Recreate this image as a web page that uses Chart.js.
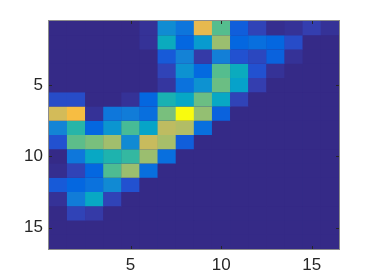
<!DOCTYPE html>
<html>
<head>
<meta charset="utf-8">
<script src="https://cdn.jsdelivr.net/npm/chart.js@4"></script>
<style>
html, body { margin: 0; padding: 0; background: #fff; }
#wrap { width: 374px; height: 280px; }
</style>
</head>
<body>
<div id="wrap"><canvas id="chart" width="374" height="280"></canvas></div>
<script>
const colLabels = ['1','2','3','4','5','6','7','8','9','10','11','12','13','14','15','16'];
const tickValues = [5, 10, 15];

// one list per image row, top to bottom, colour scale 0..1
const row1  = [0,0,0,0,0,.02,.28,.19,.79,.55,.12,.06,.01,.02,.05,.02];
const row2  = [0,0,0,0,0,.02,.41,.14,.33,.65,.14,.17,.14,.08,0,0];
const row3  = [0,0,0,0,0,0,.11,.24,.04,.23,.09,.07,.13,.02,0,0];
const row4  = [0,0,0,0,0,0,.06,.30,.15,.55,.41,.09,.02,0,0,0];
const row5  = [0,0,0,0,0,0,.03,.18,.30,.58,.36,.05,0,0,0,0];
const row6  = [.08,.08,0,0,.02,.14,.45,.38,.58,.39,.06,0,0,0,0,0];
const row7  = [.75,.83,.02,.20,.22,.17,.60,1,.64,.13,0,0,0,0,0,0];
const row8  = [.25,.48,.14,.31,.53,.37,.71,.69,.17,0,0,0,0,0,0,0];
const row9  = [.09,.56,.60,.66,.27,.73,.67,.12,0,0,0,0,0,0,0,0];
const row10 = [0,.20,.39,.46,.50,.65,.17,0,0,0,0,0,0,0,0,0];
const row11 = [.01,.06,.14,.54,.65,.17,0,0,0,0,0,0,0,0,0,0];
const row12 = [.11,.14,.18,.27,.09,0,0,0,0,0,0,0,0,0,0,0];
const row13 = [.02,.22,.39,.06,0,0,0,0,0,0,0,0,0,0,0,0];
const row14 = [0,.06,.04,0,0,0,0,0,0,0,0,0,0,0,0,0];
const row15 = [0,0,0,0,0,0,0,0,0,0,0,0,0,0,0,0];
const row16 = [0,0,0,0,0,0,0,0,0,0,0,0,0,0,0,0];
const rows = [row1,row2,row3,row4,row5,row6,row7,row8,row9,row10,row11,row12,row13,row14,row15,row16];

// parula, every third entry of the 64 step map
const stops = [[53,42,135],[53,61,173],[32,83,212],[2,104,225],[13,117,220],[20,129,214],[16,142,210],[7,156,207],
    [6,167,198],[15,174,185],[37,181,169],[66,187,152],[101,190,134],[135,191,119],[165,190,107],[192,188,96],
    [217,186,86],[241,185,74],[255,195,55],[250,211,42],[245,228,29],[249,251,14]];
function parula(v) {
    const p = v * (stops.length - 1);
    const i = Math.min(Math.floor(p), stops.length - 2);
    const t = p - i;
    const c = [0,1,2].map(k => Math.round(stops[i][k] + (stops[i+1][k] - stops[i][k]) * t));
    return `rgb(${c[0]},${c[1]},${c[2]})`;
}

// bars overlap a little so no seams show between cells
const datasets = rows.map((vals, r) => ({
    data: vals.map(() => [r + 0.5, r + 1.5]),
    backgroundColor: vals.map(parula),
    borderWidth: 0,
    borderSkipped: false,
    barPercentage: 1.02,
    categoryPercentage: 1,
    grouped: false
}));

// matlab style box and inward ticks
const boxPlugin = {
    id: 'box',
    beforeDatasetsDraw(chart) {
        const { ctx, chartArea: a } = chart;
        ctx.save();
        ctx.fillStyle = parula(0);
        ctx.fillRect(a.left, a.top, a.right - a.left, a.bottom - a.top);
        ctx.restore();
    },
    afterDatasetsDraw(chart) {
        const { ctx, chartArea: a, scales } = chart;
        ctx.save();
        ctx.strokeStyle = '#8c8c8c';
        ctx.lineWidth = 1;
        ctx.strokeRect(a.left - 0.5, a.top - 0.5, a.right - a.left + 1, a.bottom - a.top + 1);
        ctx.strokeStyle = '#262626';
        ctx.beginPath();
        tickValues.forEach(v => {
            const x = Math.round(scales.x.getPixelForValue(v - 1)) + 0.5;
            const y = Math.round(scales.y.getPixelForValue(v)) + 0.5;
            ctx.moveTo(x, a.top); ctx.lineTo(x, a.top + 3);
            ctx.moveTo(x, a.bottom); ctx.lineTo(x, a.bottom - 3);
            ctx.moveTo(a.left, y); ctx.lineTo(a.left + 3, y);
            ctx.moveTo(a.right, y); ctx.lineTo(a.right - 3, y);
        });
        ctx.stroke();
        ctx.restore();
    }
};

new Chart(document.getElementById('chart').getContext('2d'), {
    type: 'bar',
    data: { labels: colLabels, datasets: datasets },
    plugins: [boxPlugin],
    options: {
        responsive: false,
        animation: false,
        layout: { padding: { top: 21, right: 35, left: 0, bottom: 0 } },
        plugins: { legend: { display: false }, tooltip: { enabled: false } },
        scales: {
            x: {
                type: 'category',
                offset: true,
                grid: { display: false, drawTicks: false },
                border: { display: false },
                afterFit: s => { s.height = 31; },
                ticks: {
                    autoSkip: false,
                    maxRotation: 0,
                    padding: 6,
                    color: '#262626',
                    font: { family: 'Liberation Sans', size: 17 },
                    callback: (v, i) => tickValues.includes(i + 1) ? colLabels[i] : ''
                }
            },
            y: {
                type: 'linear',
                reverse: true,
                min: 0.5,
                max: 16.5,
                grid: { display: false, drawTicks: false },
                border: { display: false },
                afterFit: s => { s.width = 49; },
                afterBuildTicks: s => { s.ticks = tickValues.map(v => ({ value: v })); },
                ticks: {
                    padding: 6,
                    color: '#262626',
                    font: { family: 'Liberation Sans', size: 17 }
                }
            }
        }
    }
});
</script>
</body>
</html>
